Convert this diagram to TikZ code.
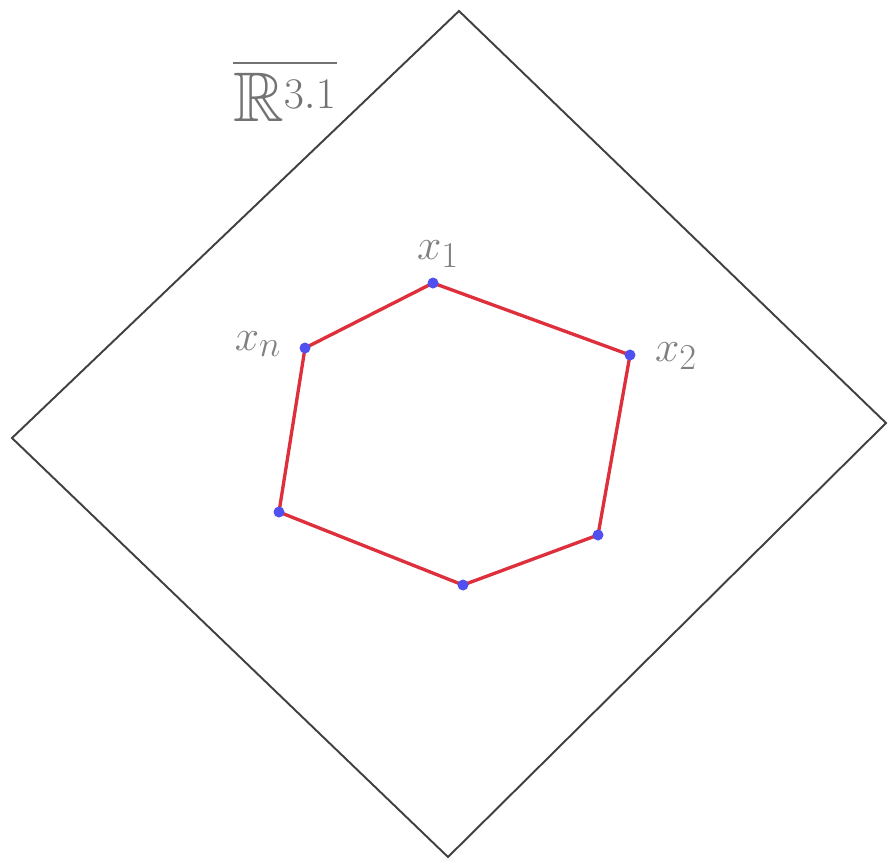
\documentclass[tikz,border=0pt]{standalone}
\usepackage{amsmath,amssymb}
\definecolor{edgered}{RGB}{222,48,60}
\definecolor{dotblue}{RGB}{80,80,240}
\begin{document}
\begin{tikzpicture}[x=0.02cm,y=-0.02cm,
  frame/.style={draw=black!75,line width=1.1pt},
  edge/.style={draw=edgered,line width=1.9pt},
  lab/.style={text=black!50,font=\fontsize{28}{32}\selectfont}]
\useasboundingbox (0,0) rectangle (888,863);
\coordinate (T) at (459,11);
\coordinate (R) at (886,423);
\coordinate (B) at (448,857);
\coordinate (L) at (12,438);
\draw[frame] (T) -- (R) -- (B) -- (L) -- cycle;
\coordinate (p1) at (433,283);
\coordinate (p2) at (630,355);
\coordinate (p3) at (598,535);
\coordinate (p4) at (463,585);
\coordinate (p5) at (279,512);
\coordinate (p6) at (305,348);
\draw[edge,line join=round] (p1) -- (p2) -- (p3) -- (p4) -- (p5) -- (p6) -- cycle;
\foreach \p in {p1,p2,p3,p4,p5,p6} \fill[dotblue] (\p) circle (5.5);
\node[lab] (l1) at (438,254) {$x_1$};
\node[lab] (l2) at (676,356) {$x_2$};
\node[lab] (ln) at (258,344) {$x_n$};
\node[text=black!55,font=\fontsize{40}{46}\selectfont] (Rl) at (285,90) {$\overline{\mathbb{R}^{3.1}}$};
\end{tikzpicture}
\end{document}
